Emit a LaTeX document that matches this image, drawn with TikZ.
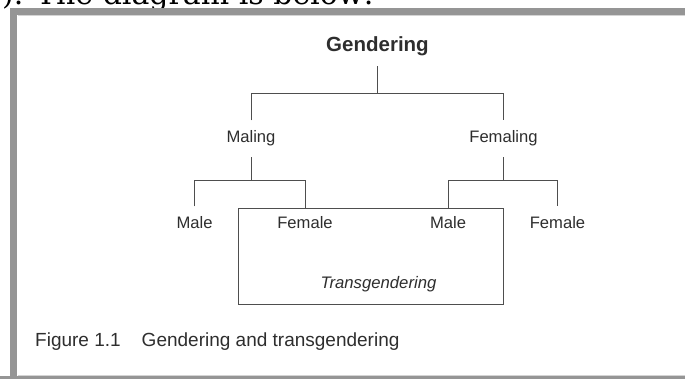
\documentclass[tikz,border=0pt]{standalone}
\usepackage{fontspec}
\setmainfont{Liberation Sans}
\newfontfamily\topserif{DejaVu Serif}
\definecolor{framegray}{HTML}{959595}
\definecolor{framelight}{HTML}{D4D4D4}
\definecolor{txtgray}{HTML}{2E2E2E}
\definecolor{linegray}{HTML}{4E4E4E}
\begin{document}
\begin{tikzpicture}[x=1pt,y=-1pt,
  lbl/.style={inner xsep=0pt, inner ysep=10pt, text height=12.3pt, text depth=4pt, anchor=base, text=txtgray, font=\fontsize{16.6}{19}\selectfont},
  rootlbl/.style={inner xsep=0pt, inner ysep=10pt, text height=14.5pt, text depth=4pt, anchor=base, text=txtgray, font=\fontsize{20.5}{24}\selectfont\bfseries},
  conn/.style={draw=linegray, line width=0.9pt},
  transbox/.style={draw=linegray, line width=0.9pt, minimum width=265.6pt, minimum height=96pt, inner sep=0pt, anchor=north west}
]
\useasboundingbox (0,0) rectangle (685,379);
\clip (0,0) rectangle (685,379);
\fill[white] (0,0) rectangle (685,379);
% partly cut text above the frame
\node[anchor=base west, inner sep=0pt, font=\topserif\fontsize{30}{34}\selectfont, text=black] (toptext) at (2,5) {). The diagram is below:};
% frame
\draw[framegray, line width=7pt] (13.5,690) -- (13.5,11.5) -- (700,11.5);
\draw[framegray, line width=7pt] (0,379.5) -- (700,379.5);
\draw[framelight, line width=1pt] (17.5,15.5) -- (700,15.5);
\draw[framelight, line width=1pt] (17.5,375.5) -- (700,375.5);
% nodes
\node[rootlbl] (g) at (377.5,52) {Gendering};
\node[lbl] (m) at (251,143) {Maling};
\node[lbl] (f) at (503.5,143) {Femaling};
\node[lbl] (mm) at (194.5,229) {Male};
\node[lbl] (mf) at (305,229) {Female};
\node[lbl] (fm) at (448,229) {Male};
\node[lbl] (ff) at (557.5,229) {Female};
\node[transbox] (tb) at (237.7,208.3) {};
\node[anchor=base, inner sep=0pt, text=txtgray, font=\fontsize{16.7}{19}\selectfont\itshape] (t) at (378.5,288) {Transgendering};
\node[anchor=base west, inner sep=0pt, text=txtgray, font=\fontsize{19}{22}\selectfont] (cap) at (35,346) {Figure 1.1\hspace{21pt}Gendering and transgendering};
% junctions
\coordinate (jg) at (377.7,93.3);
\coordinate (jm) at (250,180);
\coordinate (jf) at (503.5,180);
% connectors
\draw[conn] (g.south) -- (g.south |- jg);
\draw[conn] (m.north) -- (m.north |- jg) -- (f.north |- jg) -- (f.north);
\draw[conn] (m.south) -- (m.south |- jm);
\draw[conn] (mm.north) -- (mm.north |- jm) -- (mf.north |- jm) -- (mf.north |- tb.north);
\draw[conn] (f.south) -- (f.south |- jf);
\draw[conn] (fm.north |- tb.north) -- (fm.north |- jf) -- (ff.north |- jf) -- (ff.north);
\end{tikzpicture}
\end{document}
